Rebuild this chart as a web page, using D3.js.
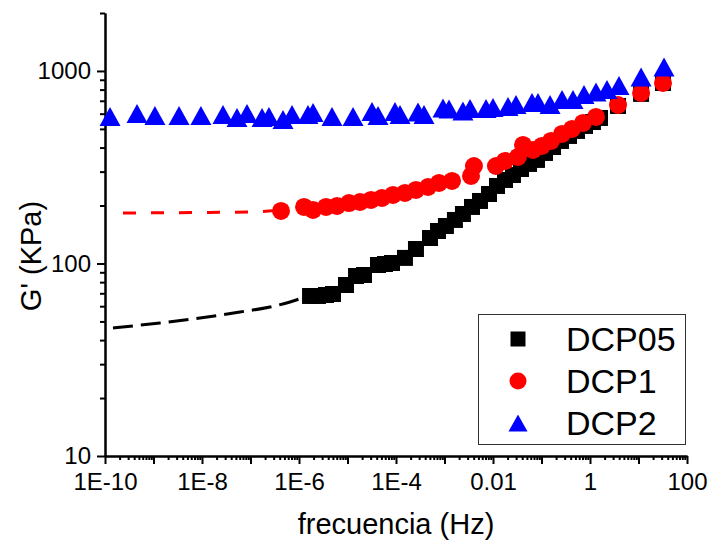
<!DOCTYPE html>
<html>
<head>
<meta charset="utf-8">
<script src="https://cdn.jsdelivr.net/npm/d3@7"></script>
<style>
  body { margin: 0; background: #fff; }
  text { font-family: "Liberation Sans", Arial, sans-serif; fill: #000; }
</style>
</head>
<body>
<svg id="chart" width="708" height="540"></svg>
<script>
// Storage modulus G' (KPa) versus frequency (Hz) for three DCP contents

const dcp05Freq = [1.69e-6, 2.47e-6, 3.61e-6, 5.02e-6, 9.31e-6, 1.50e-5, 2.19e-5, 4.26e-5, 5.93e-5, 8.28e-5,
  1.53e-4, 2.58e-4, 5.02e-4, 7.35e-4, 1.07e-3, 1.64e-3, 2.40e-3, 3.69e-3, 5.40e-3, 8.28e-3,
  0.0121, 0.0177, 0.0258, 0.0378, 0.0552, 0.0807, 0.118, 0.173, 0.252, 0.369,
  0.540, 0.789, 1.15, 1.61, 3.78, 11.3, 32.0];
const dcp05G = [67.8, 67.8, 68.6, 69.4, 77.3, 86.1, 87.1, 98.2, 99.4, 100.6,
  106.9, 118.9, 135.6, 147.5, 156.6, 168.3, 180.7, 196.6, 211.2, 229.6,
  252.7, 271.5, 288.2, 309.6, 328.8, 345, 375, 402.8, 432.9, 459.6,
  488, 518, 543, 570, 658, 760, 866];

const dcp1Freq = [4.26e-7, 1.27e-6, 1.95e-6, 3.61e-6, 6.08e-6, 1.07e-5, 1.81e-5, 3.05e-5, 5.14e-5, 8.67e-5,
  1.53e-4, 2.58e-4, 4.57e-4, 7.71e-4, 1.43e-3, 3.52e-3, 4.05e-3, 0.0115, 0.0177, 0.0327,
  0.0416, 0.0668, 0.102, 0.157, 0.265, 0.426, 0.718, 1.33, 3.78, 11.3, 32.0];
const dcp1G = [187.5, 196.6, 189.7, 196.6, 199, 206, 208.6, 213.8, 218.9, 226.9,
  232.4, 240.9, 249.6, 261.9, 268.3, 285, 320.9, 320.9, 340.7, 357.5,
  412.6, 388.8, 407.8, 432.9, 470.8, 499.6, 537, 576.7, 665.6, 769, 866];

const dcp2Freq = [1.27e-10, 4.57e-10, 1.07e-9, 3.36e-9, 9.5e-9, 2.71e-8, 5.27e-8, 8.47e-8, 1.73e-7, 2.40e-7,
  4.68e-7, 7.18e-7, 1.53e-6, 1.95e-6, 4.79e-6, 1.30e-5, 3.20e-5, 4.26e-5, 9.53e-5, 1.21e-4,
  2.84e-4, 3.78e-4, 9.31e-4, 1.24e-3, 2.40e-3, 3.36e-3, 7.18e-3, 0.0100, 0.0204, 0.0298,
  0.0637, 0.0847, 0.150, 0.265, 0.446, 0.752, 1.33, 2.24, 3.96, 11.3, 33.6];
const dcp2G = [580, 601, 587, 587, 587, 594, 573, 601, 573, 580,
  560, 594, 594, 609, 580, 580, 616, 587, 616, 594,
  612, 594, 642, 635, 620, 638, 638, 646, 654, 670,
  686, 686, 670, 711, 711, 755, 778, 802, 841, 931, 1049];

// Low-frequency extrapolation curves (dashed)
const dcp05FitFreq = [1.46e-10, 1.36e-9, 9.1e-9, 6.08e-8, 2.52e-7, 6.52e-7, 1.33e-6];
const dcp05FitG = [46.2, 49.1, 52.1, 56.0, 59.4, 63.1, 67.0];
const dcp1FitFreq = [2.35e-10, 9.1e-9, 9.77e-8, 4.45e-7];
const dcp1FitG = [183, 184, 185, 190];

const xTickValues = [1e-10, 1e-8, 1e-6, 1e-4, 1e-2, 1, 100];
const xTickLabels = ["1E-10", "1E-8", "1E-6", "1E-4", "0.01", "1", "100"];
const yTickValues = [10, 100, 1000];
const yTickLabels = ["10", "100", "1000"];

const seriesNames = ["DCP05", "DCP1", "DCP2"];
const seriesColors = ["#000000", "#ff0000", "#0000ff"];

const xTitle = "frecuencia (Hz)";
const yTitle = "G' (KPa)";

const svg = d3.select("#chart");
const x = d3.scaleLog().domain([1e-10, 100]).range([105, 687]);
const y = d3.scaleLog().domain([10, 2000]).range([456, 13]);

// ----- axes -----
const xDecades = d3.range(-10, 3).map(e => Math.pow(10, e));
const xMinor = [];
d3.range(-10, 2).forEach(e => { for (let k = 2; k < 10; k++) xMinor.push(k * Math.pow(10, e)); });
const yMinor = [];
d3.range(1, 4).forEach(e => { for (let k = 2; k < 10; k++) { const v = k * Math.pow(10, e); if (v <= 2000) yMinor.push(v); } });

function labelFor(values, labels) {
  return d => {
    const i = values.findIndex(v => Math.abs(Math.log10(v) - Math.log10(d)) < 1e-6);
    return i >= 0 ? labels[i] : "";
  };
}

function styleAxis(g) {
  g.selectAll("path.domain").attr("stroke", "#000").attr("stroke-width", 2);
  g.selectAll(".tick line").attr("stroke", "#000").attr("stroke-width", 2);
  g.selectAll(".tick text").style("font-size", "24px").attr("fill", "#000")
    .style("font-family", "'Liberation Sans', Arial, sans-serif");
}

svg.append("g").attr("transform", "translate(0,456)")
  .call(d3.axisBottom(x).tickValues(xMinor).tickSize(4).tickSizeOuter(0).tickFormat(""))
  .call(styleAxis);
svg.append("g").attr("transform", "translate(0,456)")
  .call(d3.axisBottom(x).tickValues(xDecades).tickSize(8).tickSizeOuter(0).tickPadding(9)
    .tickFormat(labelFor(xTickValues, xTickLabels)))
  .call(styleAxis);

svg.append("g").attr("transform", "translate(105,0)")
  .call(d3.axisLeft(y).tickValues(yMinor).tickSize(5).tickSizeOuter(0).tickFormat(""))
  .call(styleAxis);
svg.append("g").attr("transform", "translate(105,0)")
  .call(d3.axisLeft(y).tickValues(yTickValues).tickSize(8).tickSizeOuter(0).tickPadding(6)
    .tickFormat(labelFor(yTickValues, yTickLabels)))
  .call(styleAxis);

// axis titles
svg.append("text").attr("x", 396).attr("y", 534).attr("text-anchor", "middle")
  .style("font-size", "29px").text(xTitle);
svg.append("text").attr("transform", "translate(41,256) rotate(-90)").attr("text-anchor", "middle")
  .style("font-size", "29px").text(yTitle);

// ----- dashed fit curves -----
const line = d3.line().x(d => x(d[0])).y(d => y(d[1])).curve(d3.curveMonotoneX);
svg.append("path").datum(d3.zip(dcp05FitFreq, dcp05FitG)).attr("d", line)
  .attr("fill", "none").attr("stroke", seriesColors[0]).attr("stroke-width", 3).attr("stroke-dasharray", "20,8");
svg.append("path").datum(d3.zip(dcp1FitFreq, dcp1FitG)).attr("d", line)
  .attr("fill", "none").attr("stroke", seriesColors[1]).attr("stroke-width", 3).attr("stroke-dasharray", "13,15");

// ----- markers -----
const squarePath = s => `M${-s / 2},${-s / 2}h${s}v${s}h${-s}Z`;
const circlePath = r => `M${-r},0a${r},${r} 0 1,0 ${2 * r},0a${r},${r} 0 1,0 ${-2 * r},0Z`;
const trianglePath = (w, h) => `M0,${-h / 2}L${w / 2},${h / 2}L${-w / 2},${h / 2}Z`;

const markerShapes = [squarePath(16), circlePath(9), trianglePath(21, 19)];
const legendShapes = [squarePath(15), circlePath(8.5), trianglePath(19, 17)];
const seriesFreq = [dcp05Freq, dcp1Freq, dcp2Freq];
const seriesG = [dcp05G, dcp1G, dcp2G];

seriesNames.forEach((name, i) => {
  svg.append("g").selectAll("path")
    .data(d3.zip(seriesFreq[i], seriesG[i]))
    .join("path")
    .attr("transform", d => `translate(${x(d[0])},${y(d[1])})`)
    .attr("d", markerShapes[i])
    .attr("fill", seriesColors[i]);
});

// ----- legend -----
const legend = svg.append("g");
legend.append("rect").attr("x", 478.5).attr("y", 314.5).attr("width", 207).attr("height", 130)
  .attr("fill", "#fff").attr("stroke", "#333").attr("stroke-width", 1);
seriesNames.forEach((name, i) => {
  const cy = 339 + i * 42;
  legend.append("path").attr("transform", `translate(518,${cy})`)
    .attr("d", legendShapes[i]).attr("fill", seriesColors[i]);
  legend.append("text").attr("x", 566).attr("y", cy + 12)
    .style("font-size", "34px").text(name);
});
</script>
</body>
</html>
